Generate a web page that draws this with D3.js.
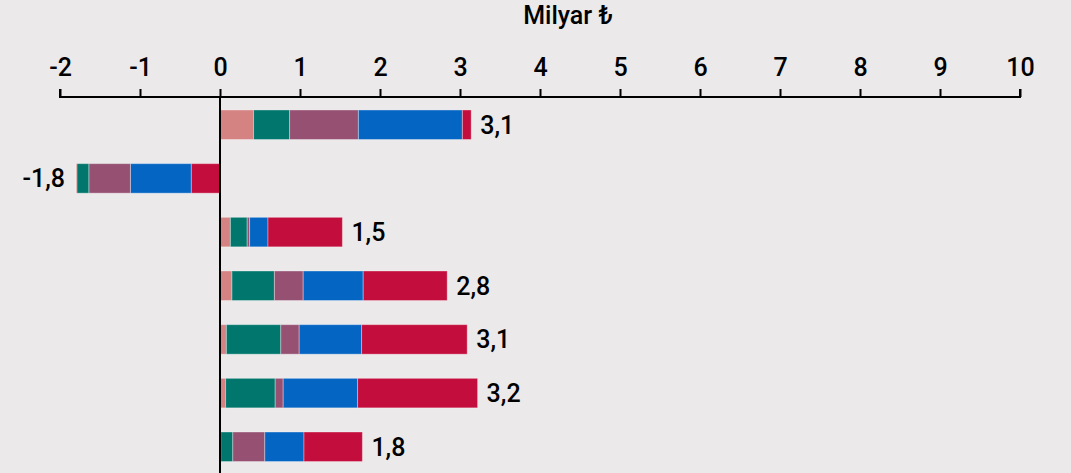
<!DOCTYPE html>
<html>
<head>
<meta charset="utf-8">
<script src="https://cdn.jsdelivr.net/npm/d3@7"></script>
<style>
  html, body { margin: 0; padding: 0; background: #EBE9EA; }
  svg { display: block; }
  text { font-family: "Roboto", sans-serif; font-weight: 500; fill: #000; }
</style>
</head>
<body>
<svg id="chart" width="1071" height="473"></svg>
<script>
// ---- data ----
const categories = ["r1", "r2", "r3", "r4", "r5", "r6", "r7"];
const seriesNames = ["s1", "s2", "s3", "s4", "s5"];
const seriesColors = ["#D48282", "#00766C", "#955072", "#0565C3", "#C30D3C"];
const s1 = [0.42, -0.01, 0.13, 0.15, 0.08, 0.07, 0.01];
const s2 = [0.45, -0.15, 0.21, 0.53, 0.68, 0.62, 0.15];
const s3 = [0.86, -0.52, 0.03, 0.36, 0.23, 0.10, 0.40];
const s4 = [1.30, -0.76, 0.23, 0.75, 0.78, 0.93, 0.49];
const s5 = [0.11, -0.36, 0.93, 1.05, 1.32, 1.50, 0.73];
const totals = [3.1, -1.8, 1.5, 2.8, 3.1, 3.2, 1.8];
const tickValues = [-2, -1, 0, 1, 2, 3, 4, 5, 6, 7, 8, 9, 10];
const axisTitle = "Milyar ₺";

const series = [s1, s2, s3, s4, s5];

const svg = d3.select("#chart");
const W = 1071, H = 473;
const FS = 25;

const x = d3.scaleLinear().domain([-2, 10]).range([60, 1020]);
const y = d3.scaleBand().domain(categories).range([97.9, 473.6])
  .paddingInner(0.45).paddingOuter(0.225);

const fmt = v => (v < 0 ? "-" : "") + d3.format(".1f")(Math.abs(v)).replace(".", ",");
const fmtTick = v => (v < 0 ? "-" : "") + Math.abs(v);

// axis title
svg.append("text").attr("x", 568).attr("y", 24)
  .attr("text-anchor", "middle").attr("font-size", FS).text(axisTitle);

// top axis
const axisY = 97;
const axis = d3.axisTop(x).tickValues(tickValues).tickSize(8).tickPadding(13).tickFormat(fmtTick);
const gAxis = svg.append("g").attr("transform", `translate(0,${axisY})`).call(axis);
gAxis.select(".domain").attr("stroke", "#000").attr("stroke-width", 2)
  .attr("d", `M${x(-2)},-8V0H${x(10)}V-8`);
gAxis.selectAll(".tick line").attr("stroke", "#000").attr("stroke-width", 2);
gAxis.selectAll(".tick text").attr("font-size", FS).attr("fill", "#000")
  .style("font-family", '"Roboto", sans-serif').style("font-weight", 500);

// build stacked segments
const segs = [];
categories.forEach((c, i) => {
  let pos = 0, neg = 0;
  series.forEach((s, k) => {
    const v = s[i];
    if (v >= 0) { segs.push({ c, k, x0: pos, x1: pos + v }); pos += v; }
  });
  for (let k = series.length - 1; k >= 0; k--) {
    const v = series[k][i];
    if (v < 0) { segs.push({ c, k, x0: neg + v, x1: neg }); neg += v; }
  }
});

svg.append("g").selectAll("rect").data(segs).join("rect")
  .attr("x", d => x(d.x0))
  .attr("width", d => x(d.x1) - x(d.x0))
  .attr("y", d => y(d.c))
  .attr("height", y.bandwidth())
  .attr("fill", d => seriesColors[d.k])
  .attr("stroke", "rgba(255,255,255,0.35)")
  .attr("stroke-width", 1);

// zero line
svg.append("line").attr("x1", x(0)).attr("x2", x(0))
  .attr("y1", axisY).attr("y2", H)
  .attr("stroke", "#000").attr("stroke-width", 2);

// value labels
svg.append("g").selectAll("text").data(categories).join("text")
  .attr("x", (c, i) => {
    const p = d3.sum(series, s => Math.max(0, s[i]));
    const n = d3.sum(series, s => Math.min(0, s[i]));
    return totals[i] < 0 ? x(n) - 11 : x(p) + 9;
  })
  .attr("y", c => y(c) + y.bandwidth() / 2)
  .attr("dy", "0.36em")
  .attr("text-anchor", (c, i) => totals[i] < 0 ? "end" : "start")
  .attr("font-size", FS)
  .text((c, i) => fmt(totals[i]));
</script>
</body>
</html>
